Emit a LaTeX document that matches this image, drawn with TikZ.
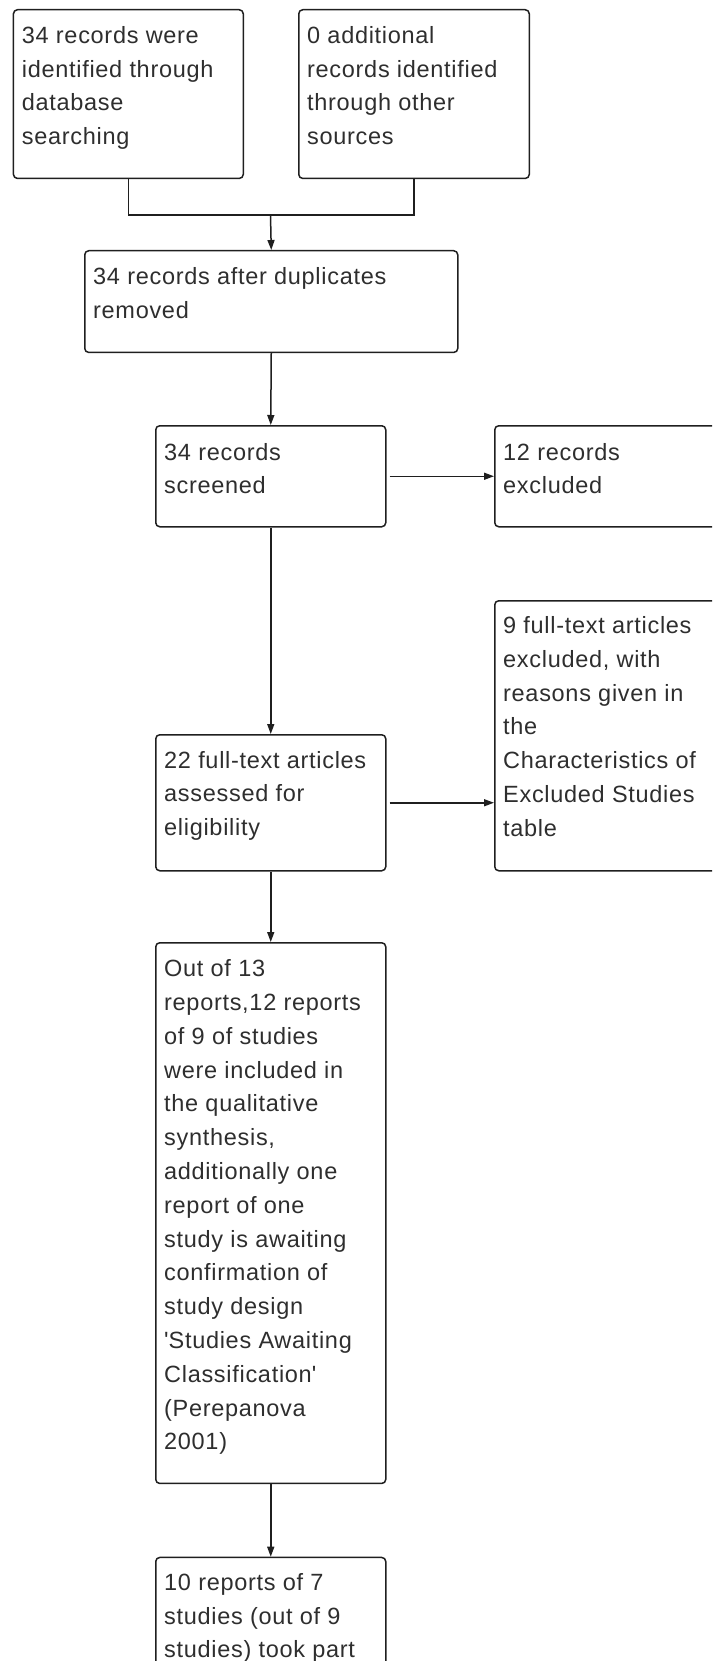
\documentclass[tikz,border=0pt]{standalone}
\usepackage{fontspec}
\setmainfont{Liberation Sans}[LetterSpace=3]
\usetikzlibrary{arrows.meta,calc}
\newcommand\boxtext[1]{\parbox[t]{300pt}{\fontsize{23.5}{33.8}\selectfont #1}}
\begin{document}
\begin{tikzpicture}[x=1pt,y=-1pt,
  box/.style={draw=black!88, line width=1.5pt, rounded corners=4pt, anchor=north west, inner sep=0pt},
  lbl/.style={anchor=base west, inner sep=0pt, text=black!82},
  conn/.style={draw=black!88, line width=1.5pt},
  arr/.style={conn, -{Triangle[length=10pt,width=7pt]}}]
\useasboundingbox (0,0) rectangle (712,1661);
\clip (0,0) rectangle (712,1661);
% boxes
\node[box, minimum width=229.8pt, minimum height=168.7pt] (b1) at (12.7,9) {};
\node[box, minimum width=230.5pt, minimum height=168.7pt] (b2) at (298,9) {};
\node[box, minimum width=373pt, minimum height=101.7pt] (b3) at (84,250) {};
\node[box, minimum width=230pt, minimum height=101pt] (b4) at (155,425) {};
\node[box, minimum width=240pt, minimum height=101pt] (b5) at (494,425) {};
\node[box, minimum width=240pt, minimum height=270pt] (b6) at (494,600) {};
\node[box, minimum width=230pt, minimum height=136pt] (b7) at (155,734) {};
\node[box, minimum width=230pt, minimum height=540.7pt] (b8) at (155,942) {};
\node[box, minimum width=230pt, minimum height=160pt] (b9) at (155,1556.7) {};
% texts
\node[lbl] (t1) at ($(b1.north west)+(9,34.3)$) {\boxtext{34 records were\\identified through\\database\\searching}};
\node[lbl] (t2) at ($(b2.north west)+(9,34.3)$) {\boxtext{0 additional\\records identified\\through other\\sources}};
\node[lbl] (t3) at ($(b3.north west)+(9,35)$) {\boxtext{34 records after duplicates\\removed}};
\node[lbl] (t4) at ($(b4.north west)+(9,35)$) {\boxtext{34 records\\screened}};
\node[lbl] (t5) at ($(b5.north west)+(9,35)$) {\boxtext{12 records\\excluded}};
\node[lbl] (t6) at ($(b6.north west)+(9,33.5)$) {\boxtext{9 full-text articles\\excluded, with\\reasons given in\\the\\Characteristics of\\Excluded Studies\\table}};
\node[lbl] (t7) at ($(b7.north west)+(9,34)$) {\boxtext{22 full-text articles\\assessed for\\eligibility}};
\node[lbl] (t8) at ($(b8.north west)+(9,34.7)$) {\boxtext{Out of 13\\reports,12 reports\\of 9 of studies\\were included in\\the qualitative\\synthesis,\\additionally one\\report of one\\study is awaiting\\confirmation of\\study design\\\textquotesingle Studies Awaiting\\Classification\textquotesingle\\(Perepanova\\2001)}};
\node[lbl] (t9) at ($(b9.north west)+(9,33.5)$) {\boxtext{10 reports of 7\\studies (out of 9\\studies) took part}};
% connectors
\coordinate (j) at (270.5,215);
\draw[conn] (b1.south) -- (b1.south |- j) -- (b2.south |- j) -- (b2.south);
\draw[arr] (j) -- (b3.north);
\draw[arr] (b3.south) -- (b4.north);
\draw[arr, shorten <=3pt] (b4.east) -- (b4.east -| b5.west);
\draw[arr] (b4.south) -- (b7.north);
\draw[arr, shorten <=3pt] (b7.east) -- (b7.east -| b6.west);
\draw[arr] (b7.south) -- (b8.north);
\draw[arr] (b8.south) -- (b9.north);
\end{tikzpicture}
\end{document}
